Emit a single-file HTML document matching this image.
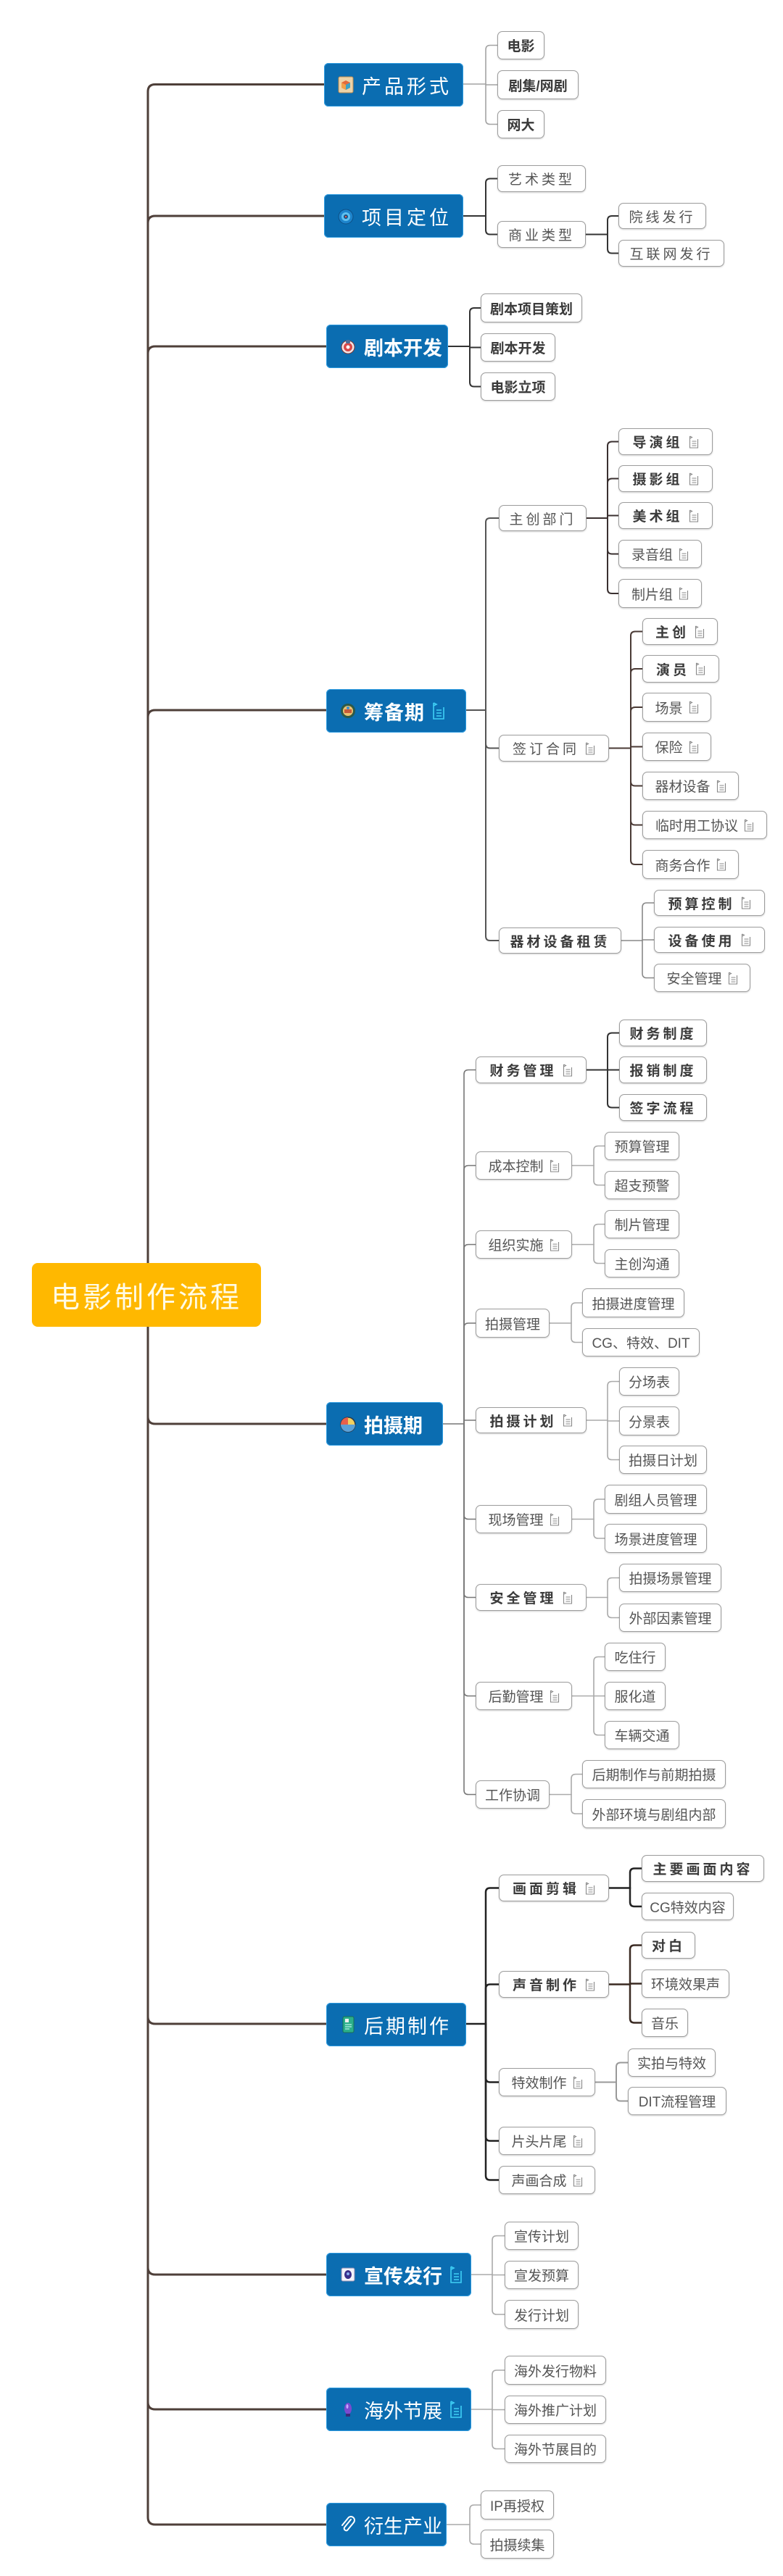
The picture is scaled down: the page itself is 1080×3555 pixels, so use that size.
<!DOCTYPE html>
<html><head><meta charset="utf-8">
<style>
html,body{margin:0;padding:0;background:#fff;}
body{width:1080px;height:3555px;position:relative;overflow:hidden;font-family:"Liberation Sans","Noto Sans CJK SC","WenQuanYi Zen Hei",sans-serif;}
svg.lines{position:absolute;left:0;top:0;}
.m{position:absolute;height:60px;background:#0b6db1;border-radius:6px;color:#fff;display:flex;align-items:center;box-sizing:border-box;padding-left:18px;font-size:27px;white-space:nowrap;box-shadow:0 0 0 1px #2d9be0 inset;}
.m .ic{width:24px;height:24px;margin-right:10px;flex:none;}
.m .nt{margin-left:10px;}
.c{position:absolute;background:#fff;border:1.5px solid #9d9d9d;border-radius:7px;box-sizing:border-box;display:flex;align-items:center;justify-content:center;font-size:19px;color:#555;white-space:nowrap;box-shadow:0 1px 2px rgba(0,0,0,.18);}
.bd{font-weight:bold;color:#3b3b3b;}
.sp span{letter-spacing:4px;}
.c svg{margin-left:8px;flex:none;}
.root{position:absolute;left:44px;top:1743px;width:316px;height:88px;background:#ffb800;border-radius:8px;display:flex;align-items:center;justify-content:center;color:#fffbe6;font-size:40px;letter-spacing:4px;}
</style></head><body>

<svg class="lines" width="1080" height="3555" viewBox="0 0 1080 3555" fill="none" stroke-linecap="round">
<!-- trunk -->
<g stroke="#4e3f39" stroke-width="3">
<path d="M204 1787V126.5Q204 116.5 214 116.5H450"/>
<path d="M204 1787V308Q204 298 214 298H450"/>
<path d="M204 1787V488Q204 478 214 478H450"/>
<path d="M204 1787V990Q204 980 214 980H450"/>
<path d="M204 1787V1955Q204 1965 214 1965H450"/>
<path d="M204 1787V2783Q204 2793 214 2793H450"/>
<path d="M204 1787V3129Q204 3139 214 3139H450"/>
<path d="M204 1787V3315Q204 3325 214 3325H450"/>
<path d="M204 1787V3474Q204 3484 214 3484H450"/>
</g>
<!-- 产品形式 -->
<g stroke="#a3a3a3" stroke-width="1.6">
<path d="M639 116H670"/>
<path d="M670 116V68.5Q670 62.5 676 62.5H686"/>
<path d="M670 117H686"/>
<path d="M670 116V165.5Q670 171.5 676 171.5H686"/>
</g>
<!-- 项目定位 -->
<g stroke="#333" stroke-width="2">
<path d="M639 298H670"/>
<path d="M670 298V252.5Q670 246.5 676 246.5H686"/>
<path d="M670 298V317.5Q670 323.5 676 323.5H686"/>
<path d="M808 323.5H838"/>
<path d="M838 323.5V304Q838 298 844 298H853"/>
<path d="M838 323.5V343.5Q838 349.5 844 349.5H853"/>
</g>
<!-- 剧本开发 -->
<g stroke="#333" stroke-width="2">
<path d="M618 478H648"/>
<path d="M648 478V431Q648 425 654 425H663"/>
<path d="M648 479.5H663"/>
<path d="M648 478V527.5Q648 533.5 654 533.5H663"/>
</g>
<!-- 筹备期 -->
<g stroke="#555" stroke-width="2">
<path d="M643 980H670"/>
<path d="M670 980V721Q670 715 676 715H688"/>
<path d="M670 980V1026.5Q670 1032.5 676 1032.5H688"/>
<path d="M670 980V1292Q670 1298 676 1298H688"/>
</g>
<g stroke="#3a3030" stroke-width="2">
<path d="M809 715H838"/>
<path d="M838 715V615.5Q838 609.5 844 609.5H853"/>
<path d="M838 715V666.5Q838 660.5 844 660.5H853"/>
<path d="M838 711.5H853"/>
<path d="M838 715V758.5Q838 764.5 844 764.5H853"/>
<path d="M838 715V813Q838 819 844 819H853"/>
</g>
<g stroke="#4a3a35" stroke-width="2">
<path d="M840 1032.5H870"/>
<path d="M870 1032.5V877.5Q870 871.5 876 871.5H886"/>
<path d="M870 1032.5V929Q870 923 876 923H886"/>
<path d="M870 1032.5V982Q870 976 876 976H886"/>
<path d="M870 1030.5H886"/>
<path d="M870 1032.5V1078.5Q870 1084.5 876 1084.5H886"/>
<path d="M870 1032.5V1132.5Q870 1138.5 876 1138.5H886"/>
<path d="M870 1032.5V1187Q870 1193 876 1193H886"/>
</g>
<g stroke="#888" stroke-width="1.6">
<path d="M857 1298H886"/>
<path d="M886 1298V1252Q886 1246 892 1246H902"/>
<path d="M886 1297H902"/>
<path d="M886 1298V1343.5Q886 1349.5 892 1349.5H902"/>
</g>
<!-- 拍摄期 -->
<g stroke="#777" stroke-width="1.6">
<path d="M611 1965H640"/>
<path d="M640 1965V1482.5Q640 1476.5 646 1476.5H656"/>
<path d="M640 1965V1614.5Q640 1608.5 646 1608.5H656"/>
<path d="M640 1965V1723.5Q640 1717.5 646 1717.5H656"/>
<path d="M640 1965V1832Q640 1826 646 1826H656"/>
<path d="M640 1960H656"/>
<path d="M640 1965V2090.5Q640 2096.5 646 2096.5H656"/>
<path d="M640 1965V2198.5Q640 2204.5 646 2204.5H656"/>
<path d="M640 1965V2334.5Q640 2340.5 646 2340.5H656"/>
<path d="M640 1965V2470.5Q640 2476.5 646 2476.5H656"/>
</g>
<g stroke="#333" stroke-width="2">
<path d="M809 1476.5H838"/>
<path d="M838 1476.5V1431.5Q838 1425.5 844 1425.5H854"/>
<path d="M838 1476.5H854"/>
<path d="M838 1476.5V1522.5Q838 1528.5 844 1528.5H854"/>
</g>
<g stroke="#aaa" stroke-width="1.6">
<path d="M789 1608.5H819"/>
<path d="M819 1608.5V1587.5Q819 1581.5 825 1581.5H834"/>
<path d="M819 1608.5V1629.5Q819 1635.5 825 1635.5H834"/>
<path d="M789 1717.5H819"/>
<path d="M819 1717.5V1695.5Q819 1689.5 825 1689.5H834"/>
<path d="M819 1717.5V1737.5Q819 1743.5 825 1743.5H834"/>
<path d="M758 1826H788"/>
<path d="M788 1826V1804Q788 1798 794 1798H803"/>
<path d="M788 1826V1846.5Q788 1852.5 794 1852.5H803"/>
<path d="M809 1960H838"/>
<path d="M838 1960V1912.5Q838 1906.5 844 1906.5H854"/>
<path d="M838 1961H854"/>
<path d="M838 1960V2008.5Q838 2014.5 844 2014.5H854"/>
<path d="M789 2096.5H819"/>
<path d="M819 2096.5V2075Q819 2069 825 2069H834"/>
<path d="M819 2096.5V2117Q819 2123 825 2123H834"/>
<path d="M809 2204.5H838"/>
<path d="M838 2204.5V2183.5Q838 2177.5 844 2177.5H854"/>
<path d="M838 2204.5V2226.5Q838 2232.5 844 2232.5H854"/>
<path d="M789 2340.5H819"/>
<path d="M819 2340.5V2292.5Q819 2286.5 825 2286.5H834"/>
<path d="M819 2340.5H834"/>
<path d="M819 2340.5V2388.5Q819 2394.5 825 2394.5H834"/>
<path d="M758 2476.5H788"/>
<path d="M788 2476.5V2454.5Q788 2448.5 794 2448.5H803"/>
<path d="M788 2476.5V2497Q788 2503 794 2503H803"/>
</g>
<!-- 后期制作 -->
<g stroke="#222" stroke-width="2.5">
<path d="M643 2793H670"/>
<path d="M670 2793V2611.5Q670 2605.5 676 2605.5H688"/>
<path d="M670 2793V2744.5Q670 2738.5 676 2738.5H688"/>
<path d="M670 2793V2867.5Q670 2873.5 676 2873.5H688"/>
<path d="M670 2793V2948.5Q670 2954.5 676 2954.5H688"/>
<path d="M670 2793V3002.5Q670 3008.5 676 3008.5H688"/>
<path d="M840 2605.5H869"/>
<path d="M869 2605.5V2584.5Q869 2578.5 875 2578.5H885"/>
<path d="M869 2605.5V2625Q869 2631 875 2631H885"/>
</g>
<g stroke="#3a2a22" stroke-width="2.5">
<path d="M840 2738.5H869"/>
<path d="M869 2738.5V2690.5Q869 2684.5 875 2684.5H885"/>
<path d="M869 2737.5H885"/>
<path d="M869 2738.5V2785.5Q869 2791.5 875 2791.5H885"/>
</g>
<g stroke="#999" stroke-width="2">
<path d="M821 2873.5H850"/>
<path d="M850 2873.5V2852.5Q850 2846.5 856 2846.5H866"/>
<path d="M850 2873.5V2893.5Q850 2899.5 856 2899.5H866"/>
</g>
<!-- 宣传发行 / 海外节展 / 衍生产业 -->
<g stroke="#aaa" stroke-width="1.6">
<path d="M650 3139H679"/>
<path d="M679 3139V3091.5Q679 3085.5 685 3085.5H696"/>
<path d="M679 3139.5H696"/>
<path d="M679 3139V3188Q679 3194 685 3194H696"/>
<path d="M650 3325H679"/>
<path d="M679 3325V3277Q679 3271 685 3271H696"/>
<path d="M679 3325.5H696"/>
<path d="M679 3325V3373.5Q679 3379.5 685 3379.5H696"/>
<path d="M616 3484H648"/>
<path d="M648 3484V3463Q648 3457 654 3457H663"/>
<path d="M648 3484V3505Q648 3511 654 3511H663"/>
</g>
</svg>

<!-- root -->
<div class="root">电影制作流程</div>

<!-- main nodes -->
<div class="m" style="left:447px;top:87px;width:192px;letter-spacing:4px;">
<svg class="ic" viewBox="0 0 24 24"><rect x="2" y="1" width="20" height="22" rx="2" fill="#edd3a8" stroke="#b88a50"/><path d="M12 6l6 3v7l-6 3-6-3V9z" fill="#e36a3c"/><path d="M12 12l6-3v7l-6 3z" fill="#3aa3c8"/><path d="M12 12v7l-6-3V9z" fill="#f0a04a"/></svg>产品形式</div>

<div class="m" style="left:447px;top:268px;width:192px;letter-spacing:4px;">
<svg class="ic" viewBox="0 0 24 24"><circle cx="12" cy="13" r="10" fill="#1d84cc" stroke="#0d4f85"/><circle cx="12" cy="13" r="6" fill="#5fc0f0"/><circle cx="12" cy="13" r="3" fill="#0d4f85"/><circle cx="12" cy="13" r="1.3" fill="#e85a4a"/></svg>项目定位</div>

<div class="m" style="left:450px;top:448px;width:168px;font-weight:bold;">
<svg class="ic" viewBox="0 0 24 24"><circle cx="12" cy="13" r="9" fill="#f3e6e6" stroke="#7a3a3a"/><circle cx="12" cy="13" r="6" fill="#d84848"/><rect x="9" y="3" width="6" height="5" rx="2" fill="#4a6e9a"/><circle cx="12" cy="13" r="2.5" fill="#fff"/></svg>剧本开发</div>

<div class="m" style="left:450px;top:951px;width:193px;font-weight:bold;letter-spacing:1px;">
<svg class="ic" viewBox="0 0 24 24"><circle cx="12" cy="12" r="10" fill="#2c5a48"/><circle cx="12" cy="12" r="7" fill="#e8c070"/><rect x="7" y="10" width="10" height="5" fill="#c65a3a"/><circle cx="12" cy="8" r="2" fill="#3f8fd0"/></svg>筹备期<svg class="nt" width="18" height="24" viewBox="0 0 18 24"><path d="M2 1v22h14V7M2 1l4 2-4 2" fill="none" stroke="#3fd0f5" stroke-width="1.6"/><path d="M6 11h7M6 15h7M6 19h7" stroke="#3fd0f5" stroke-width="1.6"/></svg></div>

<div class="m" style="left:450px;top:1935px;width:161px;font-weight:bold;">
<svg class="ic" viewBox="0 0 24 24"><circle cx="12" cy="13" r="10" fill="#f2d060" stroke="#2a3a4a" stroke-width="1.5"/><path d="M12 13V3a10 10 0 0 0-10 10z" fill="#e8604a"/><path d="M2 13h20a10 10 0 0 1-20 0z" fill="#5aa0d8"/></svg>拍摄期</div>

<div class="m" style="left:450px;top:2764px;width:193px;letter-spacing:3px;">
<svg class="ic" viewBox="0 0 24 24"><rect x="5" y="1" width="15" height="22" rx="2" fill="#2bb08a" stroke="#1a6e55"/><rect x="8" y="4" width="5" height="5" fill="#f0f0f0"/><path d="M8 12h9M8 15h9M8 18h6" stroke="#dff" stroke-width="1"/></svg>后期制作</div>

<div class="m" style="left:450px;top:3109px;width:200px;font-weight:bold;">
<svg class="ic" viewBox="0 0 24 24"><rect x="3" y="3" width="18" height="18" rx="2" fill="#f4f4fa" stroke="#8a8ab0"/><ellipse cx="12" cy="12" rx="5" ry="6" fill="#3a2e8a"/><circle cx="12" cy="11" r="2" fill="#8ab0f0"/></svg>宣传发行<svg class="nt" width="18" height="24" viewBox="0 0 18 24"><path d="M2 1v22h14V7M2 1l4 2-4 2" fill="none" stroke="#3fd0f5" stroke-width="1.6"/><path d="M6 11h7M6 15h7M6 19h7" stroke="#3fd0f5" stroke-width="1.6"/></svg></div>

<div class="m" style="left:450px;top:3295px;width:200px;">
<svg class="ic" viewBox="0 0 24 24"><ellipse cx="12" cy="11" rx="5" ry="8" fill="#7a4ad0"/><rect x="9" y="18" width="6" height="4" fill="#3a2a7a"/><ellipse cx="11" cy="8" rx="1.5" ry="3" fill="#c8a8ff"/></svg>海外节展<svg class="nt" width="18" height="24" viewBox="0 0 18 24"><path d="M2 1v22h14V7M2 1l4 2-4 2" fill="none" stroke="#3fd0f5" stroke-width="1.6"/><path d="M6 11h7M6 15h7M6 19h7" stroke="#3fd0f5" stroke-width="1.6"/></svg></div>

<div class="m" style="left:450px;top:3454px;width:166px;">
<svg class="ic" viewBox="0 0 24 24"><path d="M16 5L7 16a3 3 0 0 0 4 4l9-11a5 5 0 0 0-7-7L4 13" fill="none" stroke="#fff" stroke-width="2" stroke-linecap="round"/></svg>衍生产业</div>

<!-- children: 产品形式 -->
<div class="c bd" style="left:686px;top:43px;width:65px;height:39px;"><span>电影</span></div>
<div class="c bd" style="left:686px;top:97px;width:112px;height:40px;"><span>剧集/网剧</span></div>
<div class="c bd" style="left:686px;top:152px;width:65px;height:39px;"><span>网大</span></div>

<!-- 项目定位 -->
<div class="c sp" style="left:686px;top:228px;width:122px;height:37px;"><span>艺术类型</span></div>
<div class="c sp" style="left:686px;top:305px;width:122px;height:37px;"><span>商业类型</span></div>
<div class="c sp" style="left:853px;top:280px;width:121px;height:36px;"><span>院线发行</span></div>
<div class="c sp" style="left:853px;top:331px;width:146px;height:37px;"><span>互联网发行</span></div>

<!-- 剧本开发 -->
<div class="c bd" style="left:663px;top:405px;width:140px;height:40px;"><span>剧本项目策划</span></div>
<div class="c bd" style="left:663px;top:460px;width:103px;height:39px;"><span>剧本开发</span></div>
<div class="c bd" style="left:663px;top:514px;width:103px;height:39px;"><span>电影立项</span></div>

<!-- 筹备期 -->
<div class="c sp" style="left:688px;top:697px;width:121px;height:36px;"><span>主创部门</span></div>
<div class="c bd sp" style="left:853px;top:591px;width:130px;height:37px;"><span>导演组</span><svg width="14" height="18" viewBox="0 0 14 18"><path d="M1.5 1v16h11V5M1.5 1l3 1.5-3 1.5" fill="none" stroke="#888" stroke-width="1.1"/><path d="M4.5 8h6M4.5 11h6M4.5 14h6" stroke="#888" stroke-width="1.1"/></svg></div>
<div class="c bd sp" style="left:853px;top:642px;width:130px;height:37px;"><span>摄影组</span><svg width="14" height="18" viewBox="0 0 14 18"><path d="M1.5 1v16h11V5M1.5 1l3 1.5-3 1.5" fill="none" stroke="#888" stroke-width="1.1"/><path d="M4.5 8h6M4.5 11h6M4.5 14h6" stroke="#888" stroke-width="1.1"/></svg></div>
<div class="c bd sp" style="left:853px;top:693px;width:130px;height:37px;"><span>美术组</span><svg width="14" height="18" viewBox="0 0 14 18"><path d="M1.5 1v16h11V5M1.5 1l3 1.5-3 1.5" fill="none" stroke="#888" stroke-width="1.1"/><path d="M4.5 8h6M4.5 11h6M4.5 14h6" stroke="#888" stroke-width="1.1"/></svg></div>
<div class="c" style="left:853px;top:745px;width:115px;height:39px;"><span>录音组</span><svg width="14" height="18" viewBox="0 0 14 18"><path d="M1.5 1v16h11V5M1.5 1l3 1.5-3 1.5" fill="none" stroke="#888" stroke-width="1.1"/><path d="M4.5 8h6M4.5 11h6M4.5 14h6" stroke="#888" stroke-width="1.1"/></svg></div>
<div class="c" style="left:853px;top:799px;width:115px;height:40px;"><span>制片组</span><svg width="14" height="18" viewBox="0 0 14 18"><path d="M1.5 1v16h11V5M1.5 1l3 1.5-3 1.5" fill="none" stroke="#888" stroke-width="1.1"/><path d="M4.5 8h6M4.5 11h6M4.5 14h6" stroke="#888" stroke-width="1.1"/></svg></div>

<div class="c sp" style="left:688px;top:1014px;width:152px;height:37px;"><span>签订合同</span><svg width="14" height="18" viewBox="0 0 14 18"><path d="M1.5 1v16h11V5M1.5 1l3 1.5-3 1.5" fill="none" stroke="#888" stroke-width="1.1"/><path d="M4.5 8h6M4.5 11h6M4.5 14h6" stroke="#888" stroke-width="1.1"/></svg></div>
<div class="c bd sp" style="left:886px;top:853px;width:104px;height:37px;"><span>主创</span><svg width="14" height="18" viewBox="0 0 14 18"><path d="M1.5 1v16h11V5M1.5 1l3 1.5-3 1.5" fill="none" stroke="#888" stroke-width="1.1"/><path d="M4.5 8h6M4.5 11h6M4.5 14h6" stroke="#888" stroke-width="1.1"/></svg></div>
<div class="c bd sp" style="left:886px;top:904px;width:106px;height:38px;"><span>演员</span><svg width="14" height="18" viewBox="0 0 14 18"><path d="M1.5 1v16h11V5M1.5 1l3 1.5-3 1.5" fill="none" stroke="#888" stroke-width="1.1"/><path d="M4.5 8h6M4.5 11h6M4.5 14h6" stroke="#888" stroke-width="1.1"/></svg></div>
<div class="c" style="left:886px;top:956px;width:95px;height:40px;"><span>场景</span><svg width="14" height="18" viewBox="0 0 14 18"><path d="M1.5 1v16h11V5M1.5 1l3 1.5-3 1.5" fill="none" stroke="#888" stroke-width="1.1"/><path d="M4.5 8h6M4.5 11h6M4.5 14h6" stroke="#888" stroke-width="1.1"/></svg></div>
<div class="c" style="left:886px;top:1011px;width:95px;height:39px;"><span>保险</span><svg width="14" height="18" viewBox="0 0 14 18"><path d="M1.5 1v16h11V5M1.5 1l3 1.5-3 1.5" fill="none" stroke="#888" stroke-width="1.1"/><path d="M4.5 8h6M4.5 11h6M4.5 14h6" stroke="#888" stroke-width="1.1"/></svg></div>
<div class="c" style="left:886px;top:1065px;width:133px;height:39px;"><span>器材设备</span><svg width="14" height="18" viewBox="0 0 14 18"><path d="M1.5 1v16h11V5M1.5 1l3 1.5-3 1.5" fill="none" stroke="#888" stroke-width="1.1"/><path d="M4.5 8h6M4.5 11h6M4.5 14h6" stroke="#888" stroke-width="1.1"/></svg></div>
<div class="c" style="left:886px;top:1119px;width:172px;height:39px;"><span>临时用工协议</span><svg width="14" height="18" viewBox="0 0 14 18"><path d="M1.5 1v16h11V5M1.5 1l3 1.5-3 1.5" fill="none" stroke="#888" stroke-width="1.1"/><path d="M4.5 8h6M4.5 11h6M4.5 14h6" stroke="#888" stroke-width="1.1"/></svg></div>
<div class="c" style="left:886px;top:1173px;width:133px;height:40px;"><span>商务合作</span><svg width="14" height="18" viewBox="0 0 14 18"><path d="M1.5 1v16h11V5M1.5 1l3 1.5-3 1.5" fill="none" stroke="#888" stroke-width="1.1"/><path d="M4.5 8h6M4.5 11h6M4.5 14h6" stroke="#888" stroke-width="1.1"/></svg></div>

<div class="c bd sp" style="left:688px;top:1280px;width:169px;height:36px;"><span>器材设备租赁</span></div>
<div class="c bd sp" style="left:902px;top:1228px;width:153px;height:36px;"><span>预算控制</span><svg width="14" height="18" viewBox="0 0 14 18"><path d="M1.5 1v16h11V5M1.5 1l3 1.5-3 1.5" fill="none" stroke="#888" stroke-width="1.1"/><path d="M4.5 8h6M4.5 11h6M4.5 14h6" stroke="#888" stroke-width="1.1"/></svg></div>
<div class="c bd sp" style="left:902px;top:1279px;width:153px;height:36px;"><span>设备使用</span><svg width="14" height="18" viewBox="0 0 14 18"><path d="M1.5 1v16h11V5M1.5 1l3 1.5-3 1.5" fill="none" stroke="#888" stroke-width="1.1"/><path d="M4.5 8h6M4.5 11h6M4.5 14h6" stroke="#888" stroke-width="1.1"/></svg></div>
<div class="c" style="left:902px;top:1330px;width:133px;height:39px;"><span>安全管理</span><svg width="14" height="18" viewBox="0 0 14 18"><path d="M1.5 1v16h11V5M1.5 1l3 1.5-3 1.5" fill="none" stroke="#888" stroke-width="1.1"/><path d="M4.5 8h6M4.5 11h6M4.5 14h6" stroke="#888" stroke-width="1.1"/></svg></div>

<!-- 拍摄期 -->
<div class="c bd sp" style="left:656px;top:1458px;width:153px;height:37px;"><span>财务管理</span><svg width="14" height="18" viewBox="0 0 14 18"><path d="M1.5 1v16h11V5M1.5 1l3 1.5-3 1.5" fill="none" stroke="#888" stroke-width="1.1"/><path d="M4.5 8h6M4.5 11h6M4.5 14h6" stroke="#888" stroke-width="1.1"/></svg></div>
<div class="c bd sp" style="left:854px;top:1407px;width:121px;height:37px;"><span>财务制度</span></div>
<div class="c bd sp" style="left:854px;top:1458px;width:121px;height:37px;"><span>报销制度</span></div>
<div class="c bd sp" style="left:854px;top:1510px;width:121px;height:37px;"><span>签字流程</span></div>

<div class="c" style="left:656px;top:1589px;width:133px;height:39px;"><span>成本控制</span><svg width="14" height="18" viewBox="0 0 14 18"><path d="M1.5 1v16h11V5M1.5 1l3 1.5-3 1.5" fill="none" stroke="#888" stroke-width="1.1"/><path d="M4.5 8h6M4.5 11h6M4.5 14h6" stroke="#888" stroke-width="1.1"/></svg></div>
<div class="c" style="left:834px;top:1562px;width:103px;height:39px;"><span>预算管理</span></div>
<div class="c" style="left:834px;top:1616px;width:103px;height:39px;"><span>超支预警</span></div>

<div class="c" style="left:656px;top:1698px;width:133px;height:39px;"><span>组织实施</span><svg width="14" height="18" viewBox="0 0 14 18"><path d="M1.5 1v16h11V5M1.5 1l3 1.5-3 1.5" fill="none" stroke="#888" stroke-width="1.1"/><path d="M4.5 8h6M4.5 11h6M4.5 14h6" stroke="#888" stroke-width="1.1"/></svg></div>
<div class="c" style="left:834px;top:1670px;width:103px;height:39px;"><span>制片管理</span></div>
<div class="c" style="left:834px;top:1724px;width:103px;height:39px;"><span>主创沟通</span></div>

<div class="c" style="left:656px;top:1806px;width:102px;height:40px;"><span>拍摄管理</span></div>
<div class="c" style="left:803px;top:1778px;width:141px;height:40px;"><span>拍摄进度管理</span></div>
<div class="c" style="left:803px;top:1833px;width:162px;height:39px;"><span>CG、特效、DIT</span></div>

<div class="c bd sp" style="left:656px;top:1942px;width:153px;height:36px;"><span>拍摄计划</span><svg width="14" height="18" viewBox="0 0 14 18"><path d="M1.5 1v16h11V5M1.5 1l3 1.5-3 1.5" fill="none" stroke="#888" stroke-width="1.1"/><path d="M4.5 8h6M4.5 11h6M4.5 14h6" stroke="#888" stroke-width="1.1"/></svg></div>
<div class="c" style="left:854px;top:1887px;width:83px;height:39px;"><span>分场表</span></div>
<div class="c" style="left:854px;top:1941px;width:83px;height:40px;"><span>分景表</span></div>
<div class="c" style="left:854px;top:1995px;width:121px;height:39px;"><span>拍摄日计划</span></div>

<div class="c" style="left:656px;top:2077px;width:133px;height:39px;"><span>现场管理</span><svg width="14" height="18" viewBox="0 0 14 18"><path d="M1.5 1v16h11V5M1.5 1l3 1.5-3 1.5" fill="none" stroke="#888" stroke-width="1.1"/><path d="M4.5 8h6M4.5 11h6M4.5 14h6" stroke="#888" stroke-width="1.1"/></svg></div>
<div class="c" style="left:834px;top:2049px;width:141px;height:40px;"><span>剧组人员管理</span></div>
<div class="c" style="left:834px;top:2103px;width:141px;height:40px;"><span>场景进度管理</span></div>

<div class="c bd sp" style="left:656px;top:2186px;width:153px;height:37px;"><span>安全管理</span><svg width="14" height="18" viewBox="0 0 14 18"><path d="M1.5 1v16h11V5M1.5 1l3 1.5-3 1.5" fill="none" stroke="#888" stroke-width="1.1"/><path d="M4.5 8h6M4.5 11h6M4.5 14h6" stroke="#888" stroke-width="1.1"/></svg></div>
<div class="c" style="left:854px;top:2158px;width:141px;height:39px;"><span>拍摄场景管理</span></div>
<div class="c" style="left:854px;top:2213px;width:141px;height:39px;"><span>外部因素管理</span></div>

<div class="c" style="left:656px;top:2321px;width:133px;height:39px;"><span>后勤管理</span><svg width="14" height="18" viewBox="0 0 14 18"><path d="M1.5 1v16h11V5M1.5 1l3 1.5-3 1.5" fill="none" stroke="#888" stroke-width="1.1"/><path d="M4.5 8h6M4.5 11h6M4.5 14h6" stroke="#888" stroke-width="1.1"/></svg></div>
<div class="c" style="left:834px;top:2267px;width:84px;height:39px;"><span>吃住行</span></div>
<div class="c" style="left:834px;top:2321px;width:84px;height:39px;"><span>服化道</span></div>
<div class="c" style="left:834px;top:2375px;width:103px;height:39px;"><span>车辆交通</span></div>

<div class="c" style="left:656px;top:2457px;width:102px;height:39px;"><span>工作协调</span></div>
<div class="c" style="left:803px;top:2429px;width:198px;height:39px;"><span>后期制作与前期拍摄</span></div>
<div class="c" style="left:803px;top:2483px;width:198px;height:40px;"><span>外部环境与剧组内部</span></div>

<!-- 后期制作 -->
<div class="c bd sp" style="left:688px;top:2587px;width:152px;height:37px;"><span>画面剪辑</span><svg width="14" height="18" viewBox="0 0 14 18"><path d="M1.5 1v16h11V5M1.5 1l3 1.5-3 1.5" fill="none" stroke="#888" stroke-width="1.1"/><path d="M4.5 8h6M4.5 11h6M4.5 14h6" stroke="#888" stroke-width="1.1"/></svg></div>
<div class="c bd sp" style="left:885px;top:2560px;width:169px;height:37px;"><span>主要画面内容</span></div>
<div class="c" style="left:885px;top:2612px;width:127px;height:38px;"><span>CG特效内容</span></div>

<div class="c bd sp" style="left:688px;top:2720px;width:152px;height:37px;"><span>声音制作</span><svg width="14" height="18" viewBox="0 0 14 18"><path d="M1.5 1v16h11V5M1.5 1l3 1.5-3 1.5" fill="none" stroke="#888" stroke-width="1.1"/><path d="M4.5 8h6M4.5 11h6M4.5 14h6" stroke="#888" stroke-width="1.1"/></svg></div>
<div class="c bd sp" style="left:885px;top:2666px;width:74px;height:37px;"><span>对白</span></div>
<div class="c" style="left:885px;top:2718px;width:121px;height:39px;"><span>环境效果声</span></div>
<div class="c" style="left:885px;top:2772px;width:64px;height:39px;"><span>音乐</span></div>

<div class="c" style="left:688px;top:2854px;width:133px;height:39px;"><span>特效制作</span><svg width="14" height="18" viewBox="0 0 14 18"><path d="M1.5 1v16h11V5M1.5 1l3 1.5-3 1.5" fill="none" stroke="#888" stroke-width="1.1"/><path d="M4.5 8h6M4.5 11h6M4.5 14h6" stroke="#888" stroke-width="1.1"/></svg></div>
<div class="c" style="left:866px;top:2827px;width:121px;height:39px;"><span>实拍与特效</span></div>
<div class="c" style="left:866px;top:2880px;width:136px;height:39px;"><span>DIT流程管理</span></div>
<div class="c" style="left:688px;top:2935px;width:133px;height:39px;"><span>片头片尾</span><svg width="14" height="18" viewBox="0 0 14 18"><path d="M1.5 1v16h11V5M1.5 1l3 1.5-3 1.5" fill="none" stroke="#888" stroke-width="1.1"/><path d="M4.5 8h6M4.5 11h6M4.5 14h6" stroke="#888" stroke-width="1.1"/></svg></div>
<div class="c" style="left:688px;top:2989px;width:133px;height:39px;"><span>声画合成</span><svg width="14" height="18" viewBox="0 0 14 18"><path d="M1.5 1v16h11V5M1.5 1l3 1.5-3 1.5" fill="none" stroke="#888" stroke-width="1.1"/><path d="M4.5 8h6M4.5 11h6M4.5 14h6" stroke="#888" stroke-width="1.1"/></svg></div>

<!-- 宣传发行 -->
<div class="c" style="left:696px;top:3066px;width:102px;height:39px;"><span>宣传计划</span></div>
<div class="c" style="left:696px;top:3120px;width:102px;height:39px;"><span>宣发预算</span></div>
<div class="c" style="left:696px;top:3174px;width:102px;height:40px;"><span>发行计划</span></div>

<!-- 海外节展 -->
<div class="c" style="left:696px;top:3251px;width:140px;height:40px;"><span>海外发行物料</span></div>
<div class="c" style="left:696px;top:3306px;width:140px;height:39px;"><span>海外推广计划</span></div>
<div class="c" style="left:696px;top:3360px;width:140px;height:39px;"><span>海外节展目的</span></div>

<!-- 衍生产业 -->
<div class="c" style="left:663px;top:3437px;width:101px;height:40px;"><span>IP再授权</span></div>
<div class="c" style="left:663px;top:3491px;width:101px;height:40px;"><span>拍摄续集</span></div>

</body></html>
